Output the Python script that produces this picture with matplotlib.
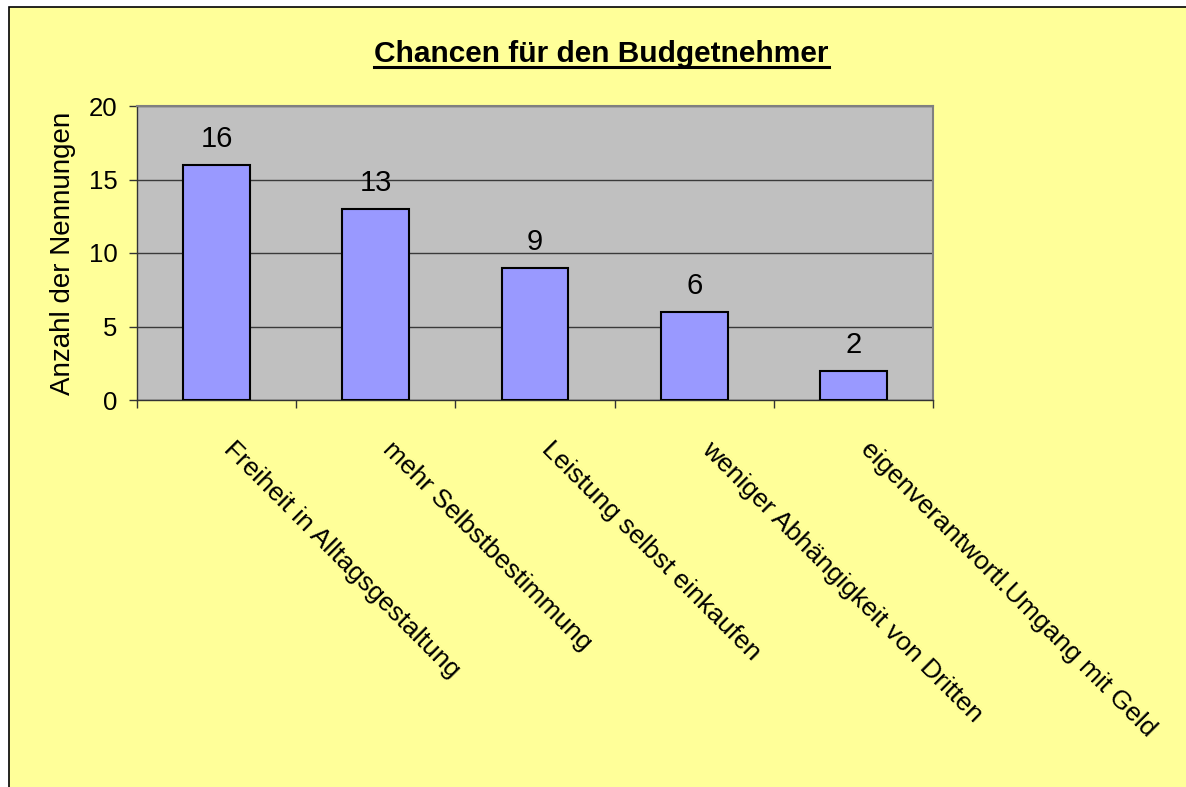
import matplotlib
matplotlib.use('Agg')
import matplotlib.pyplot as plt
from matplotlib.patches import Rectangle
from matplotlib.transforms import ScaledTranslation
import numpy as np

plt.rcParams['font.family'] = ['Liberation Sans', 'DejaVu Sans']

categories = ['Freiheit in Alltagsgestaltung', 'mehr Selbstbestimmung',
              'Leistung selbst einkaufen', 'weniger Abhängigkeit von Dritten',
              'eigenverantwortl.Umgang mit Geld']
nennungen = [16, 13, 9, 6, 2]
yticks = [0, 5, 10, 15, 20]

W, H = 1186, 787
fig = plt.figure(figsize=(W / 100, H / 100), dpi=100, facecolor='white')

# yellow chart area with black frame (only top/left edge visible)
bg = Rectangle((9 / W, -0.1), 1.2, 1 - 7 / H + 0.1, transform=fig.transFigure,
               facecolor='#FFFF99', edgecolor='black', linewidth=1.2, zorder=0)
fig.add_artist(bg)

ax = fig.add_axes([137 / W, 1 - 400 / H, (933 - 137) / W, (400 - 106) / H])
ax.set_facecolor('#C0C0C0')

x = np.arange(len(categories))
bars = ax.bar(x, nennungen, width=0.42, color='#9999FF', edgecolor='black',
              linewidth=1.5, zorder=3)

for xi, v in zip(x, nennungen):
    ax.text(xi, v + 1.2, str(v), ha='center', va='baseline', fontsize=21, zorder=4)

ax.set_xlim(-0.5, len(categories) - 0.5)
ax.set_ylim(0, 20)
ax.set_yticks(yticks)
ax.set_yticklabels([str(t) for t in yticks], fontsize=18.5)
ax.yaxis.grid(True, color='#3a3a3a', linewidth=1)
ax.set_axisbelow(True)

# tick marks at category boundaries, labels at centres
ax.set_xticks(np.arange(-0.5, len(categories)), minor=False)
ax.set_xticklabels([])
ax.set_xticks(x, minor=True)
ax.set_xticklabels(categories, minor=True, rotation=-45, ha='left', va='baseline',
                   rotation_mode='anchor', fontsize=19)
ax.tick_params(axis='x', which='minor', length=0, pad=36)
ax.tick_params(axis='x', which='major', length=6, width=1, color='#333333')
ax.tick_params(axis='y', length=6, width=1, color='#333333', pad=8)
shift = ScaledTranslation(6 / 100, 0, fig.dpi_scale_trans)
for lab in ax.get_xticklabels(minor=True):
    lab.set_transform(lab.get_transform() + shift)

for side in ['top', 'right']:
    ax.spines[side].set_color('#808080')
    ax.spines[side].set_linewidth(1.5)
for side in ['left', 'bottom']:
    ax.spines[side].set_color('#333333')
    ax.spines[side].set_linewidth(1)

ax.set_ylabel('Anzahl der Nennungen', fontsize=20)
ax.yaxis.set_label_coords((76 - 137) / 796, 0.5)

title = fig.text(601.5 / W, 1 - 62 / H, 'Chancen für den Budgetnehmer', ha='center',
                 va='baseline', fontsize=21.5, fontweight='bold')
# underline the title over its real width
fig.canvas.draw()
tb = title.get_window_extent().transformed(fig.transFigure.inverted())
fig.add_artist(plt.Line2D([tb.x0, tb.x1], [1 - 67 / H, 1 - 67 / H],
                          color='black', linewidth=2.2))

fig.savefig('out.png', dpi=100, facecolor=fig.get_facecolor())
